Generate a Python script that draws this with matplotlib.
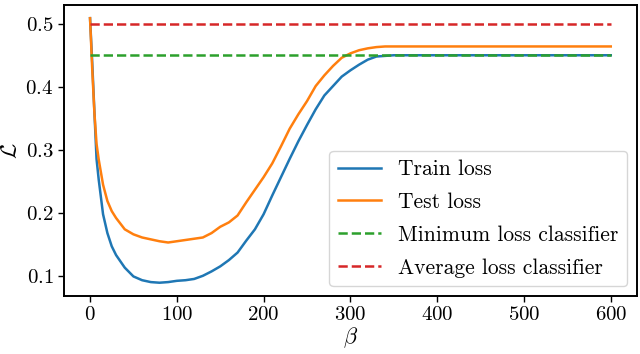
import matplotlib
matplotlib.use("Agg")
import matplotlib.pyplot as plt

plt.rcParams['font.family'] = ['cmr10', 'DejaVu Serif']
plt.rcParams['mathtext.fontset'] = 'cm'
plt.rcParams['axes.formatter.use_mathtext'] = True
plt.rcParams['axes.unicode_minus'] = False

beta = [0, 2.5, 5, 7.5, 10, 15, 20, 25, 30, 40, 50, 60, 70, 80, 90, 100, 110, 120,
        130, 140, 150, 160, 170, 180, 190, 200, 210, 220, 230, 240, 250, 260, 270,
        280, 290, 300, 310, 320, 330, 340, 350, 375, 400, 450, 500, 550, 600]

train_loss = [0.510, 0.440, 0.362, 0.286, 0.253, 0.198, 0.168, 0.147, 0.133, 0.113,
              0.099, 0.093, 0.090, 0.089, 0.090, 0.092, 0.093, 0.095, 0.100, 0.107,
              0.115, 0.125, 0.137, 0.156, 0.174, 0.198, 0.228, 0.257, 0.286, 0.314,
              0.340, 0.365, 0.387, 0.402, 0.417, 0.427, 0.436, 0.444, 0.449, 0.450,
              0.451, 0.451, 0.451, 0.451, 0.451, 0.451, 0.451]

test_loss = [0.510, 0.430, 0.360, 0.310, 0.285, 0.245, 0.219, 0.203, 0.192, 0.174,
             0.166, 0.161, 0.158, 0.155, 0.153, 0.155, 0.157, 0.159, 0.161, 0.168,
             0.178, 0.185, 0.196, 0.217, 0.237, 0.257, 0.279, 0.306, 0.334, 0.357,
             0.378, 0.402, 0.419, 0.434, 0.447, 0.454, 0.459, 0.462, 0.464, 0.465,
             0.465, 0.465, 0.465, 0.465, 0.465, 0.465, 0.465]

min_loss_level = 0.451
avg_loss_level = 0.500
x_range = [0, 600]

fig = plt.figure(figsize=(6.4, 3.54), dpi=100)
ax = fig.add_axes([0.1, 0.164, 0.895, 0.822])

ax.plot(beta, train_loss, color='#1f77b4', lw=1.8, label='Train loss')
ax.plot(beta, test_loss, color='#ff7f0e', lw=1.8, label='Test loss')
ax.plot(x_range, [min_loss_level] * 2, '--', color='#2ca02c', lw=1.8,
        label='Minimum loss classifier')
ax.plot(x_range, [avg_loss_level] * 2, '--', color='#d62728', lw=1.8,
        label='Average loss classifier')

ax.set_xticks([0, 100, 200, 300, 400, 500, 600])
ax.set_yticks([0.1, 0.2, 0.3, 0.4, 0.5])
ax.tick_params(labelsize=15, width=1.0, length=4)
for s in ax.spines.values():
    s.set_linewidth(1.4)
ax.set_xlabel(r'$\beta$', fontsize=16, labelpad=1)
ax.set_ylabel(r'$\mathcal{L}$', fontsize=16, labelpad=3)
ax.legend(loc='lower right', fontsize=15.5, borderaxespad=0.45, handlelength=2.0,
          labelspacing=0.62)

fig.savefig('out.png', dpi=100)
